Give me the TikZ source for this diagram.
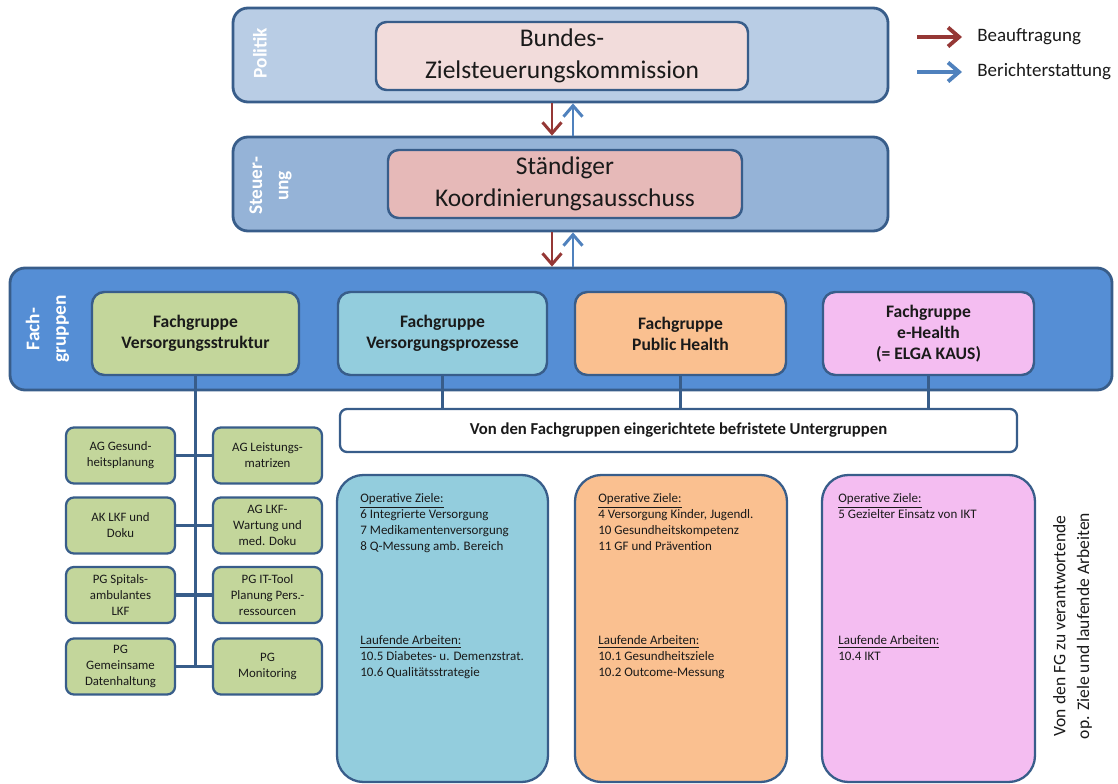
\documentclass[tikz,border=0pt]{standalone}
\usepackage{fontspec}
\setmainfont{Carlito}
\usetikzlibrary{arrows.meta,positioning}
\definecolor{frameBlue}{HTML}{385D8A}
\definecolor{bandLight}{HTML}{B9CDE5}
\definecolor{bandMid}{HTML}{95B3D7}
\definecolor{bandDark}{HTML}{558ED5}
\definecolor{leadPale}{HTML}{F2DCDB}
\definecolor{leadRose}{HTML}{E6B9B8}
\definecolor{fgGreen}{HTML}{C3D69B}
\definecolor{fgCyan}{HTML}{93CDDD}
\definecolor{fgOrange}{HTML}{FAC090}
\definecolor{fgPink}{HTML}{F4BDF1}
\definecolor{arrRed}{HTML}{953735}
\definecolor{arrBlue}{HTML}{4F81BD}
\definecolor{inkGray}{HTML}{1A1A1A}

\begin{document}
\begin{tikzpicture}[
  band/.style={draw=frameBlue,line width=1.6pt,rounded corners=8.5pt,
    minimum width=13.1cm,minimum height=1.88cm},
  lead/.style={draw=frameBlue,line width=1.4pt,rounded corners=6pt,text=inkGray,
    align=center,font=\fontsize{14.5}{18}\selectfont,minimum height=1.36cm},
  lane/.style={text=white,rotate=90,align=center,
    font=\fontsize{11}{15}\selectfont\bfseries},
  fg/.style={draw=frameBlue,line width=1.4pt,rounded corners=7pt,text=inkGray,
    minimum width=4.18cm,minimum height=1.66cm,align=center,
    font=\fontsize{10}{12}\selectfont\bfseries},
  ag/.style={draw=frameBlue,line width=1.3pt,fill=fgGreen,rounded corners=4.5pt,
    minimum width=2.18cm,minimum height=1.12cm,align=center,inner sep=1pt,
    text=inkGray,font=\fontsize{7.3}{9}\selectfont},
  ziel/.style={draw=frameBlue,line width=1.3pt,rounded corners=15pt,
    minimum width=4.24cm,minimum height=6.14cm},
  list/.style={anchor=north west,align=left,inner sep=0pt,text=inkGray,
    font=\fontsize{7.4}{9.1}\selectfont},
  legend/.style={anchor=west,inner sep=0pt,text=inkGray,
    font=\fontsize{10.8}{13}\selectfont},
  conn/.style={frameBlue,line width=2.2pt},
  auftrag/.style={-{Straight Barb[length=2.2mm,width=3.8mm]},arrRed,line width=1.7pt},
  bericht/.style={-{Straight Barb[length=2.2mm,width=3.8mm]},arrBlue,line width=1.7pt}
]
  \useasboundingbox (0,0) rectangle (22.36,-15.68);

  \node[band,fill=bandLight] (politik) at (11.21,-1.10) {};
  \node[band,fill=bandMid] (steuer) at (11.21,-3.68) {};
  \node[band,fill=bandDark,minimum width=22.04cm,minimum height=2.44cm] (fach) at (11.22,-6.58) {};

  \node[lane] (lpol) at (5.2,-1.06) {Politik};
  \node[lane] (lsteu) at (5.41,-3.72) {Steuer-\\ung};
  \node[lane] (lfach) at (0.95,-6.58) {Fach-\\gruppen};

  \node[lead,fill=leadPale,minimum width=7.44cm] (bzk) at (11.24,-1.12) {Bundes-\\Zielsteuerungskommission};
  \node[lead,fill=leadRose,minimum width=7.08cm] (ska) at (11.30,-3.68) {Ständiger\\Koordinierungsausschuss};

  \node[fg,fill=fgGreen,minimum width=4.14cm] (fg1) at (3.91,-6.67) {Fachgruppe\\Versorgungsstruktur};
  \node[fg,fill=fgCyan] (fg2) at (8.85,-6.67) {Fachgruppe\\Versorgungsprozesse};
  \node[fg,fill=fgOrange,minimum width=4.22cm] (fg3) at (13.61,-6.67) {Fachgruppe\\Public Health};
  \node[fg,fill=fgPink,minimum width=4.22cm] (fg4) at (18.57,-6.67) {Fachgruppe\\e-Health\\(= ELGA KAUS)};

  \node[draw=frameBlue,line width=1.3pt,fill=white,rounded corners=4pt,
    minimum width=13.54cm,minimum height=0.86cm,text=inkGray,
    font=\fontsize{9.5}{11}\selectfont\bfseries] (ug) at (13.57,-8.61)
    {Von den Fachgruppen eingerichtete befristete Untergruppen};

  \node[ag] (agGes) at (2.41,-9.11) {AG Gesund-\\heitsplanung};
  \node[ag] (agLeist) at (5.35,-9.11) {AG Leistungs-\\matrizen};
  \node[ag] (akLkf) at (2.41,-10.51) {AK LKF und\\Doku};
  \node[ag] (agLkf) at (5.35,-10.51) {AG LKF-\\Wartung und\\med. Doku};
  \node[ag] (pgSpit) at (2.41,-11.90) {PG Spitals-\\ambulantes\\LKF};
  \node[ag] (pgIt) at (5.35,-11.90) {PG IT-Tool\\Planung Pers.-\\ressourcen};
  \node[ag] (pgDat) at (2.41,-13.33) {PG\\Gemeinsame\\Datenhaltung};
  \node[ag] (pgMon) at (5.35,-13.33) {PG\\Monitoring};

  \node[ziel,fill=fgCyan,minimum width=4.22cm] (zvp) at (8.85,-12.57) {};
  \node[ziel,fill=fgOrange] (zph) at (13.62,-12.57) {};
  \node[ziel,fill=fgPink,minimum width=4.26cm] (zeh) at (18.57,-12.57) {};

  \node[list] (ozVp) at (7.2,-9.87) {\underline{Operative Ziele:}\\6 Integrierte Versorgung\\7 Medikamentenversorgung\\8 Q-Messung amb. Bereich};
  \node[list] (laVp) at (7.2,-12.71) {\underline{Laufende Arbeiten:}\\10.5 Diabetes- u. Demenzstrat.\\10.6 Qualitätsstrategie};
  \node[list] (ozPh) at (11.96,-9.87) {\underline{Operative Ziele:}\\4 Versorgung Kinder, Jugendl.\\10 Gesundheitskompetenz\\11 GF und Prävention};
  \node[list] (laPh) at (11.96,-12.71) {\underline{Laufende Arbeiten:}\\10.1 Gesundheitsziele\\10.2 Outcome-Messung};
  \node[list] (ozEh) at (16.76,-9.87) {\underline{Operative Ziele:}\\5 Gezielter Einsatz von IKT};
  \node[list] (laEh) at (16.76,-12.71) {\underline{Laufende Arbeiten:}\\10.4 IKT};

  \node[rotate=90,align=center,text=inkGray,font=\fontsize{10}{13.5}\selectfont] (fgnote) at (21.45,-12.52)
    {Von den FG zu verantwortende\\op. Ziele und laufende Arbeiten};

  \coordinate (la1) at (18.34,-0.74);
  \coordinate (la2) at (19.24,-0.74);
  \coordinate (lb1) at (18.34,-1.44);
  \coordinate (lb2) at (19.24,-1.44);
  \node[legend] (lgA) at (19.54,-0.74) {Beauftragung};
  \node[legend] (lgB) at (19.54,-1.44) {Berichterstattung};

  \draw[auftrag,line width=2.2pt] (la1) -- (la2);
  \draw[bericht,line width=2.2pt] (lb1) -- (lb2);

  \draw[auftrag] ([xshift=-0.17cm]politik.south) -- ([xshift=-0.17cm]steuer.north);
  \draw[bericht] ([xshift=0.25cm]steuer.north) -- ([xshift=0.25cm]politik.south);
  \draw[auftrag] ([xshift=-0.17cm]steuer.south) -- ([xshift=-0.17cm]steuer.south |- fach.north);
  \draw[bericht] ([xshift=0.25cm]steuer.south |- fach.north) -- ([xshift=0.25cm]steuer.south);

  \draw[conn] (fg1.south) -- (fg1.south |- pgDat.east);
  \draw[conn] (agGes.east) -- (agLeist.west);
  \draw[conn] (akLkf.east) -- (agLkf.west);
  \draw[conn] (pgSpit.east) -- (pgIt.west);
  \draw[conn] (pgDat.east) -- (pgMon.west);
  \draw[conn] (fg2.south) -- (fg2.south |- ug.north);
  \draw[conn] (fg3.south) -- (fg3.south |- ug.north);
  \draw[conn] (fg4.south) -- (fg4.south |- ug.north);
\end{tikzpicture}
\end{document}
